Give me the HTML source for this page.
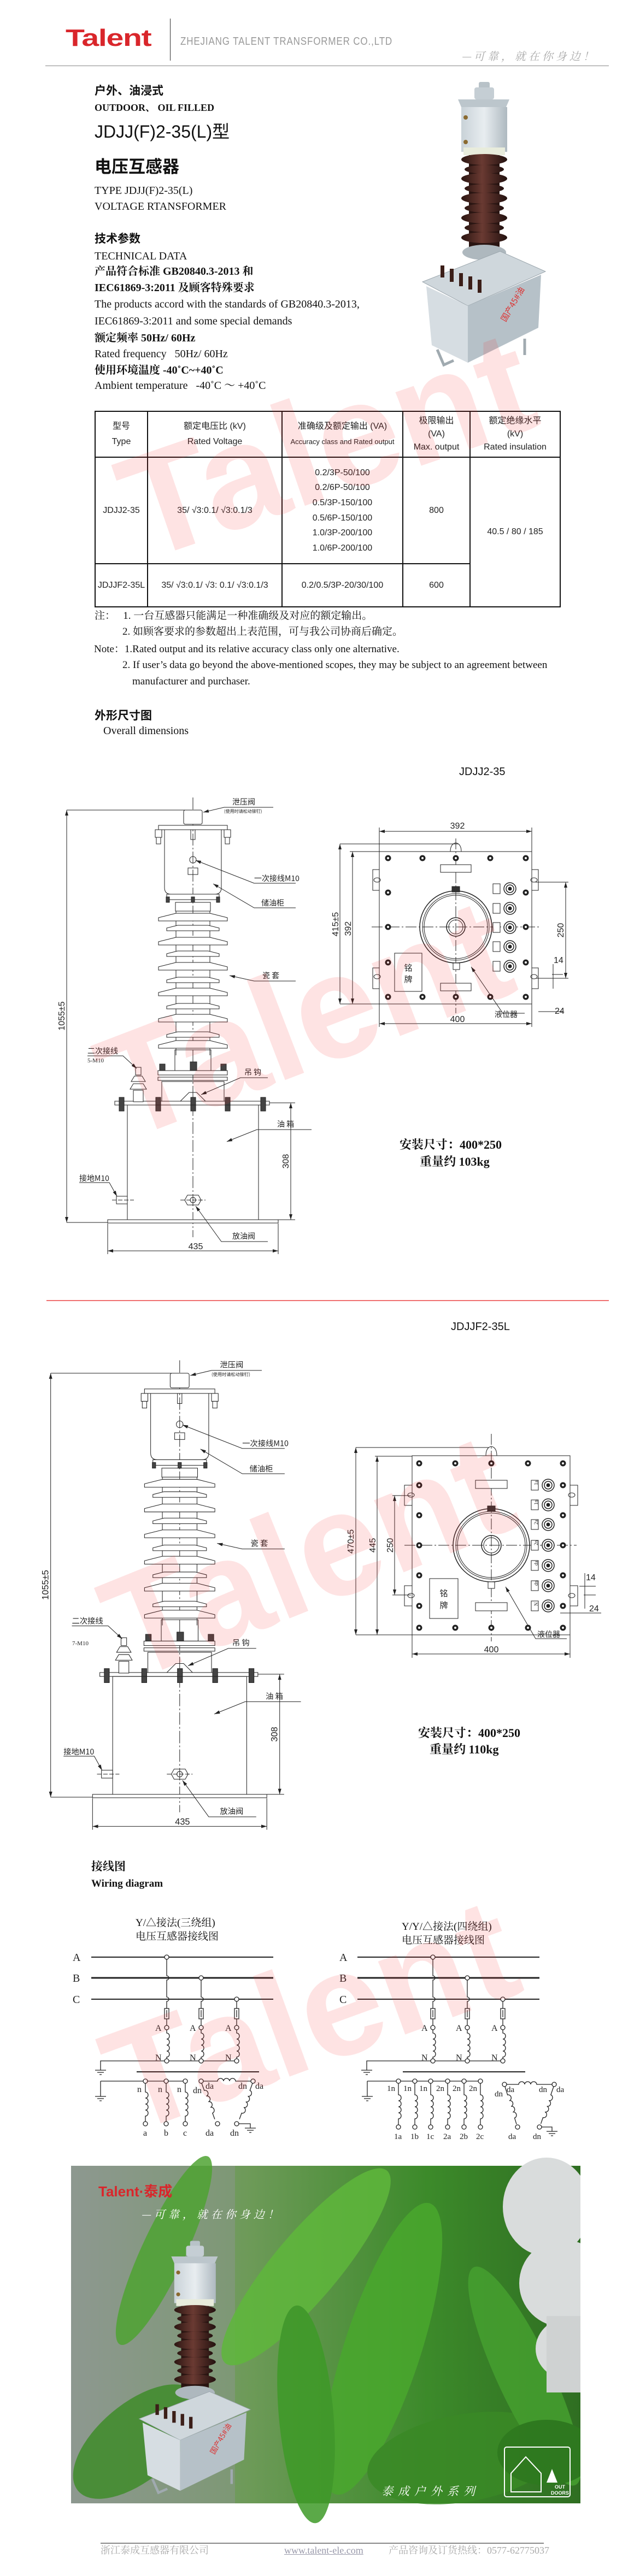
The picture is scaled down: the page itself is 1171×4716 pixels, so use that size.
<!DOCTYPE html>
<html><head><meta charset="utf-8">
<style>
html,body{margin:0;padding:0;background:#fff;}
body{width:1171px;height:4716px;position:relative;overflow:hidden;font-family:"Liberation Serif","Noto Serif CJK SC",serif;color:#111;}
.t{position:absolute;white-space:nowrap;line-height:1;}
.s{font-family:"Liberation Sans","Noto Sans CJK SC",sans-serif;}
.b{font-weight:bold;}
table.spec{position:absolute;left:173px;top:752px;border-collapse:collapse;font-family:"Liberation Sans","Noto Sans CJK SC",sans-serif;font-size:16px;color:#222;}
table.spec td{border:2px solid #111;text-align:center;vertical-align:middle;padding:0;line-height:1.75;}
.wm{position:absolute;font-family:"Liberation Sans",sans-serif;font-weight:bold;font-size:270px;color:rgba(245,40,40,0.13);white-space:nowrap;line-height:1;z-index:5;transform-origin:center;}
svg.main{position:absolute;left:0;top:0;}
</style></head><body>

<!-- header -->
<div class="t s b" style="left:120px;top:48px;font-size:44px;color:#d9262b;transform:scaleX(1.3);transform-origin:left top;letter-spacing:-1px;">Talent</div>
<div style="position:absolute;left:311px;top:34px;width:1px;height:77px;background:#333;"></div>
<div class="t s" style="left:330px;top:66px;font-size:20px;color:#999;transform:scaleX(0.85);transform-origin:left top;letter-spacing:1px;">ZHEJIANG TALENT TRANSFORMER CO.,LTD</div>
<div class="t" style="left:844px;top:92px;font-size:20px;color:#aaa;font-style:italic;letter-spacing:5px;font-family:'Noto Serif CJK SC',serif;">—可靠，就在你身边！</div>
<div style="position:absolute;left:83px;top:120px;width:1031px;height:1px;background:#888;"></div>

<!-- intro text -->
<div class="t b" style="left:173px;top:155px;font-size:21px;font-family:'Noto Sans CJK SC',sans-serif;">户外、油浸式</div>
<div class="t b" style="left:173px;top:188px;font-size:18px;">OUTDOOR、 OIL FILLED</div>
<div class="t s" style="left:173px;top:225px;font-size:32px;">JDJJ(F)2-35(L)型</div>
<div class="t b" style="left:173px;top:287px;font-size:31px;font-family:'Noto Sans CJK SC',sans-serif;">电压互感器</div>
<div class="t" style="left:173px;top:339px;font-size:20px;">TYPE JDJJ(F)2-35(L)</div>
<div class="t" style="left:173px;top:368px;font-size:20px;">VOLTAGE RTANSFORMER</div>
<div class="t b" style="left:173px;top:426px;font-size:21px;font-family:'Noto Sans CJK SC',sans-serif;">技术参数</div>
<div class="t" style="left:173px;top:459px;font-size:20px;">TECHNICAL DATA</div>
<div class="t b" style="left:173px;top:487px;font-size:20px;">产品符合标准 GB20840.3-2013 和</div>
<div class="t b" style="left:173px;top:517px;font-size:20px;">IEC61869-3:2011 及顾客特殊要求</div>
<div class="t" style="left:173px;top:547px;font-size:20px;">The products accord with the standards of GB20840.3-2013,</div>
<div class="t" style="left:173px;top:578px;font-size:20px;">IEC61869-3:2011 and some special demands</div>
<div class="t b" style="left:173px;top:609px;font-size:20px;">额定频率 50Hz/ 60Hz</div>
<div class="t" style="left:173px;top:638px;font-size:20px;">Rated frequency &nbsp;&nbsp;50Hz/ 60Hz</div>
<div class="t b" style="left:173px;top:668px;font-size:20px;">使用环境温度 -40˚C~+40˚C</div>
<div class="t" style="left:173px;top:696px;font-size:20px;">Ambient temperature &nbsp;&nbsp;-40˚C ～ +40˚C</div>

<!-- table -->
<table class="spec">
<tr style="height:84px;"><td style="width:94px;">型号<br>Type</td><td style="width:244px;">额定电压比 (kV)<br>Rated Voltage</td><td style="width:219px;">准确级及额定输出 (VA)<br><span style="font-size:13px;">Accuracy class and Rated output</span></td><td style="width:121px;line-height:1.5;">极限输出<br>(VA)<br>Max. output</td><td style="width:163px;line-height:1.5;">额定绝缘水平<br>(kV)<br>Rated insulation</td></tr>
<tr style="height:195px;"><td>JDJJ2-35</td><td>35/ √3:0.1/ √3:0.1/3</td><td style="line-height:1.72;">0.2/3P-50/100<br>0.2/6P-50/100<br>0.5/3P-150/100<br>0.5/6P-150/100<br>1.0/3P-200/100<br>1.0/6P-200/100</td><td>800</td><td rowspan="2">40.5 / 80 / 185</td></tr>
<tr style="height:79px;"><td>JDJJF2-35L</td><td>35/ √3:0.1/ √3: 0.1/ √3:0.1/3</td><td>0.2/0.5/3P-20/30/100</td><td>600</td></tr>
</table>

<!-- notes -->
<div class="t" style="left:173px;top:1118px;font-size:19px;">注：&nbsp;&nbsp;&nbsp;1. 一台互感器只能满足一种准确级及对应的额定输出。</div>
<div class="t" style="left:224px;top:1147px;font-size:19px;">2. 如顾客要求的参数超出上表范围，可与我公司协商后确定。</div>
<div class="t" style="left:172px;top:1179px;font-size:19px;">Note：1.Rated output and its relative accuracy class only one alternative.</div>
<div class="t" style="left:224px;top:1208px;font-size:19px;">2. If user’s data go beyond the above-mentioned scopes, they may be subject to an agreement between</div>
<div class="t" style="left:242px;top:1238px;font-size:19px;">manufacturer and purchaser.</div>
<div class="t b" style="left:173px;top:1299px;font-size:21px;font-family:'Noto Sans CJK SC',sans-serif;">外形尺寸图</div>
<div class="t" style="left:189px;top:1328px;font-size:20px;">Overall dimensions</div>

<div class="t s" style="left:840px;top:1403px;font-size:20px;">JDJJ2-35</div>
<div class="t s" style="left:825px;top:2419px;font-size:20px;">JDJJF2-35L</div>

<div class="t b" style="left:731px;top:2085px;font-size:22px;">安装尺寸：400*250</div>
<div class="t b" style="left:768px;top:2116px;font-size:22px;">重量约 103kg</div>
<div class="t b" style="left:765px;top:3162px;font-size:22px;">安装尺寸：400*250</div>
<div class="t b" style="left:786px;top:3192px;font-size:22px;">重量约 110kg</div>

<div style="position:absolute;left:85px;top:2380px;width:1029px;height:2px;background:#f07070;"></div>

<div class="t b" style="left:167px;top:3406px;font-size:21px;font-family:'Noto Serif CJK SC',serif;">接线图</div>
<div class="t b" style="left:167px;top:3439px;font-size:19px;">Wiring diagram</div>
<div class="t" style="left:248px;top:3511px;font-size:19px;">Y/△接法(三绕组)</div>
<div class="t" style="left:248px;top:3536px;font-size:19px;">电压互感器接线图</div>
<div class="t" style="left:735px;top:3518px;font-size:19px;">Y/Y/△接法(四绕组)</div>
<div class="t" style="left:735px;top:3543px;font-size:19px;">电压互感器接线图</div>

<!-- footer -->
<div style="position:absolute;left:184px;top:4655px;width:811px;height:2px;background:#888;"></div>
<div class="t" style="left:184px;top:4660px;font-size:18px;color:#aaa;">浙江泰成互感器有限公司</div>
<div class="t" style="left:520px;top:4660px;font-size:18px;color:#99a;text-decoration:underline;">www.talent-ele.com</div>
<div class="t" style="left:711px;top:4660px;font-size:18px;color:#aaa;">产品咨询及订货热线：0577-62775037</div>

<svg class="main" width="1171" height="4716" viewBox="0 0 1171 4716" xmlns="http://www.w3.org/2000/svg">
<defs>
<marker id="ar" markerWidth="10" markerHeight="6" refX="10" refY="3" orient="auto-start-reverse" markerUnits="userSpaceOnUse"><path d="M0,0 L10,3 L0,6 z" fill="#222"/></marker>
<g id="bolt"><circle r="5.5" fill="#222"/><circle r="2" fill="#fff"/></g>
<g id="term"><rect x="-31" y="-9" width="13" height="18" fill="#fff" stroke="#222"/><circle r="11" fill="#fff" stroke="#222" stroke-width="1.5"/><circle r="7" fill="#fff" stroke="#222" stroke-width="1.5"/><circle r="3.5" fill="#222"/></g>
<linearGradient id="grey" x1="0" x2="1"><stop offset="0" stop-color="#c9d2d8"/><stop offset="0.5" stop-color="#e8edf0"/><stop offset="1" stop-color="#aeb9c0"/></linearGradient>
<linearGradient id="brown" x1="0" x2="1"><stop offset="0" stop-color="#2c1612"/><stop offset="0.45" stop-color="#6a3a32"/><stop offset="1" stop-color="#241210"/></linearGradient>
<linearGradient id="bg" x1="0" x2="1" y1="0" y2="0"><stop offset="0" stop-color="#8f9b92"/><stop offset="0.35" stop-color="#6d9a58"/><stop offset="0.7" stop-color="#3c8a2a"/><stop offset="1" stop-color="#2f6e22"/></linearGradient>
</defs>

<!-- product photo -->
<g id="prod">
<rect x="876" y="150" width="20" height="12" rx="3" fill="#b8c2c8"/>
<rect x="868" y="160" width="36" height="22" rx="4" fill="#c5ced4"/>
<path d="M838 182 L932 182 L926 196 L844 196 z" fill="#bcc6cc"/>
<rect x="844" y="196" width="84" height="82" fill="url(#grey)"/>
<circle cx="852" cy="215" r="4" fill="#8a6a30"/><circle cx="852" cy="260" r="4" fill="#8a6a30"/>
<rect x="848" y="270" width="76" height="14" fill="#e8ecdc"/>
<rect x="858" y="284" width="56" height="168" fill="#2a1512"/>
<g fill="url(#brown)">
<ellipse cx="886" cy="292" rx="42" ry="10"/><ellipse cx="886" cy="310" rx="36" ry="8"/><ellipse cx="886" cy="327" rx="42" ry="10"/><ellipse cx="886" cy="345" rx="36" ry="8"/><ellipse cx="886" cy="363" rx="42" ry="10"/><ellipse cx="886" cy="381" rx="36" ry="8"/><ellipse cx="886" cy="399" rx="42" ry="10"/><ellipse cx="886" cy="417" rx="36" ry="8"/><ellipse cx="886" cy="435" rx="42" ry="10"/>
</g>
<ellipse cx="886" cy="462" rx="40" ry="14" fill="#aeb8be"/>
<path d="M773 516 L915 460 L998 497 L856 560 z" fill="#cfd7dc" stroke="#9aa5ac"/>
<path d="M780 524 L856 560 L856 664 L790 632 z" fill="#d6dde2"/>
<path d="M856 560 L990 503 L985 600 L856 664 z" fill="#b6c1c8"/>
<g fill="#3b1e18"><rect x="806" y="486" width="7" height="22"/><rect x="823" y="492" width="7" height="24"/><rect x="840" y="500" width="7" height="24"/><rect x="857" y="506" width="7" height="24"/><rect x="874" y="512" width="7" height="24"/></g>
<text x="925" y="590" font-size="15" fill="#d33" transform="rotate(-60 925 590)" font-family="Noto Sans CJK SC,sans-serif">国产45#油</text>
<path d="M800 640 L812 668 L830 660 M960 620 L960 650" stroke="#a0aab0" stroke-width="5" fill="none"/>
</g>

<!-- side view -->
<g id="side" fill="none" stroke="#222" stroke-width="1">
<line x1="353" y1="1460" x2="353" y2="2265" stroke-dasharray="22 4 3 4"/>
<rect x="336" y="1483" width="34" height="26" rx="3" fill="#fff"/>
<rect x="290" y="1511" width="126" height="8" fill="#fff"/>
<rect x="284" y="1519" width="12" height="14"/><rect x="410" y="1519" width="12" height="14"/>
<rect x="286" y="1533" width="8" height="12"/><rect x="412" y="1533" width="8" height="12"/>
<rect x="349" y="1519" width="8" height="18"/>
<path d="M301 1519 L301 1625 Q301 1637 313 1637 L393 1637 Q405 1637 405 1625 L405 1519"/>
<circle cx="353" cy="1574" r="6"/><rect x="344" y="1589" width="18" height="12"/>
<rect x="305" y="1637" width="96" height="10" fill="#fff"/>
<rect x="304" y="1642" width="6" height="10" fill="#444"/><rect x="350" y="1642" width="6" height="10" fill="#444"/><rect x="396" y="1642" width="6" height="10" fill="#444"/>
<rect x="321" y="1652" width="64" height="16"/>
<line x1="322" y1="1668" x2="322" y2="1932"/><line x1="384" y1="1668" x2="384" y2="1932"/>
<g fill="#fff">
<path d="M322 1672 L290 1680 L290 1686 L416 1686 L416 1680 L384 1672 z"/>
<path d="M325 1694 L305 1699 L305 1704 L401 1704 L401 1699 L381 1694 z"/>
<path d="M322 1716 L290 1724 L290 1730 L416 1730 L416 1724 L384 1716 z"/>
<path d="M325 1741 L305 1746 L305 1751 L401 1751 L401 1746 L381 1741 z"/>
<path d="M322 1762 L290 1770 L290 1776 L416 1776 L416 1770 L384 1762 z"/>
<path d="M325 1789 L305 1794 L305 1799 L401 1799 L401 1794 L381 1789 z"/>
<path d="M322 1809 L290 1817 L290 1823 L416 1823 L416 1817 L384 1809 z"/>
<path d="M325 1837 L305 1842 L305 1847 L401 1847 L401 1842 L381 1837 z"/>
<path d="M322 1857 L290 1865 L290 1871 L416 1871 L416 1865 L384 1857 z"/>
<path d="M325 1889 L305 1894 L305 1899 L401 1899 L401 1894 L381 1889 z"/>
<path d="M322 1905 L290 1913 L290 1919 L416 1919 L416 1913 L384 1905 z"/>
</g>
<rect x="320" y="1922" width="66" height="38"/>
<rect x="289" y="1960" width="127" height="8" fill="#fff"/><rect x="289" y="1972" width="127" height="6"/>
<rect x="292" y="1948" width="10" height="12" fill="#444"/><rect x="348" y="1944" width="12" height="16" fill="#444"/><rect x="404" y="1948" width="10" height="12" fill="#444"/>
<rect x="296" y="1980" width="114" height="38"/>
<path d="M328 2018 L346 2000 L360 2000 L378 2018"/>
<rect x="210" y="2016" width="283" height="7" fill="#fff"/>
<g fill="#444"><rect x="218" y="2009" width="9" height="25"/><rect x="285" y="2009" width="9" height="25"/><rect x="349" y="2009" width="9" height="25"/><rect x="412" y="2009" width="9" height="25"/><rect x="477" y="2009" width="9" height="25"/></g>
<rect x="233" y="2023" width="240" height="210"/>
<rect x="197" y="2233" width="312" height="6" fill="#fff"/>
<path d="M343 2188 L363 2188 L368 2197 L363 2206 L343 2206 L338 2197 z"/><circle cx="353" cy="2197" r="5"/>
<line x1="330" y1="2197" x2="376" y2="2197" stroke-dasharray="8 3"/>
<rect x="213" y="2190" width="20" height="14" fill="#fff"/><line x1="205" y1="2197" x2="245" y2="2197" stroke-dasharray="8 3"/>
<rect x="248" y="1954" width="10" height="14" fill="#fff"/>
<path d="M246 1970 L260 1970 L266 1980 L240 1980 z M244 1984 L262 1984 L268 1994 L238 1994 z" fill="#fff"/>
<rect x="244" y="1996" width="18" height="21" fill="#fff"/>
<!-- dims -->
<line x1="122" y1="1483" x2="340" y2="1483"/><line x1="122" y1="2238" x2="197" y2="2238"/>
<line x1="122" y1="1483" x2="122" y2="2238" marker-start="url(#ar)" marker-end="url(#ar)"/>
<line x1="493" y1="2019" x2="540" y2="2019"/><line x1="509" y1="2233" x2="540" y2="2233"/>
<line x1="532" y1="2019" x2="532" y2="2233" marker-start="url(#ar)" marker-end="url(#ar)"/>
<line x1="197" y1="2240" x2="197" y2="2296"/><line x1="509" y1="2240" x2="509" y2="2296"/>
<line x1="197" y1="2290" x2="509" y2="2290" marker-start="url(#ar)" marker-end="url(#ar)"/>
<!-- leaders -->
<path d="M500 1478 L410 1478 L372 1487" marker-end="url(#ar)"/>
<path d="M541 1617 L465 1617 L358 1575" marker-end="url(#ar)"/>
<path d="M541 1662 L465 1662 L390 1618" marker-end="url(#ar)"/>
<path d="M541 1796 L465 1796 L420 1786" marker-end="url(#ar)"/>
<path d="M490 1973 L440 1973 L368 2004" marker-end="url(#ar)"/>
<path d="M570 2068 L470 2068 L415 2090" marker-end="url(#ar)"/>
<path d="M490 2273 L405 2273 L358 2208" marker-end="url(#ar)"/>
<path d="M160 1933 L225 1933 L250 1956" marker-end="url(#ar)"/>
<path d="M145 2165 L200 2165 L214 2190" marker-end="url(#ar)"/>
<g stroke="none" fill="#222" font-family="Noto Sans CJK SC,sans-serif" font-size="14">
<text x="425" y="1473">泄压阀</text>
<text x="410" y="1488" font-size="8">(使用时请松动铆钉)</text>
<text x="465" y="1613">一次接线M10</text>
<text x="478" y="1658">储油柜</text>
<text x="480" y="1791">瓷  套</text>
<text x="447" y="1968">吊  钩</text>
<text x="507" y="2063">油  箱</text>
<text x="145" y="2162">接地M10</text>
<text x="425" y="2268">放油阀</text>
<text x="160" y="1929">二次接线</text>
<text x="358" y="2287" font-family="Liberation Sans,sans-serif" font-size="16" text-anchor="middle">435</text>
<text x="528" y="2126" font-family="Liberation Sans,sans-serif" font-size="16" text-anchor="middle" transform="rotate(-90 528 2126)">308</text>
<text x="118" y="1860" font-family="Liberation Sans,sans-serif" font-size="16" text-anchor="middle" transform="rotate(-90 118 1860)">1055±5</text>
</g>
</g>
<text x="160" y="1945" font-size="11" fill="#222" font-family="Liberation Serif,serif">5-M10</text>
<use href="#side" transform="translate(-32,989.5) scale(1.022,1.028)"/>
<text x="132" y="3012" font-size="11" fill="#222" font-family="Liberation Serif,serif">7-M10</text>

<!-- plan view 1 -->
<g fill="none" stroke="#222" stroke-width="1">
<rect x="694" y="1559" width="279" height="279" fill="#fff"/>
<path d="M824 1559 Q824 1545 834 1543 Q844 1545 844 1559 z"/>
<line x1="834" y1="1535" x2="834" y2="1855" stroke-dasharray="20 4 3 4"/>
<line x1="680" y1="1697" x2="990" y2="1697" stroke-dasharray="20 4 3 4"/>
<rect x="682" y="1592" width="12" height="38"/><rect x="682" y="1772" width="12" height="38"/>
<rect x="973" y="1592" width="12" height="38"/><rect x="973" y="1772" width="12" height="38"/>
<ellipse cx="690" cy="1611" rx="6" ry="4"/><ellipse cx="690" cy="1788" rx="6" ry="4"/><ellipse cx="977" cy="1611" rx="6" ry="4"/><ellipse cx="977" cy="1788" rx="6" ry="4"/>
<rect x="806" y="1583" width="56" height="14" fill="#fff"/><rect x="806" y="1800" width="56" height="14" fill="#fff"/>
<circle cx="834" cy="1697" r="66" stroke-width="1.5"/><circle cx="834" cy="1697" r="61"/><circle cx="834" cy="1697" r="58"/>
<circle cx="834" cy="1697" r="17" stroke-width="1.5"/><circle cx="834" cy="1697" r="13"/>
<rect x="827" y="1623" width="14" height="10" fill="#333"/><rect x="829" y="1763" width="12" height="12" fill="#fff"/>
<rect x="722" y="1745" width="50" height="70" fill="#fff"/>
<line x1="622" y1="1545" x2="838" y2="1545"/><line x1="622" y1="1838" x2="694" y2="1838"/>
<line x1="622" y1="1545" x2="622" y2="1838" marker-start="url(#ar)" marker-end="url(#ar)"/>
<line x1="640" y1="1559" x2="694" y2="1559"/>
<line x1="645" y1="1559" x2="645" y2="1838" marker-start="url(#ar)" marker-end="url(#ar)"/>
<line x1="694" y1="1515" x2="694" y2="1559"/><line x1="973" y1="1515" x2="973" y2="1559"/>
<line x1="694" y1="1522" x2="973" y2="1522" marker-start="url(#ar)" marker-end="url(#ar)"/>
<line x1="694" y1="1838" x2="694" y2="1880"/><line x1="973" y1="1838" x2="973" y2="1880"/>
<line x1="694" y1="1874" x2="973" y2="1874" marker-start="url(#ar)" marker-end="url(#ar)"/>
<line x1="980" y1="1615" x2="1040" y2="1615"/><line x1="980" y1="1791" x2="1040" y2="1791"/>
<line x1="1035" y1="1615" x2="1035" y2="1791" marker-start="url(#ar)" marker-end="url(#ar)"/>
<line x1="1010" y1="1784" x2="1030" y2="1784"/><line x1="1012" y1="1765" x2="1012" y2="1810"/>
<line x1="985" y1="1852" x2="1030" y2="1852"/>
<path d="M960 1855 L920 1855 L862 1770" marker-end="url(#ar)"/>
</g>
<g>
<use href="#bolt" x="710" y="1571"/><use href="#bolt" x="773" y="1571"/><use href="#bolt" x="834" y="1571"/><use href="#bolt" x="897" y="1571"/><use href="#bolt" x="962" y="1571"/>
<use href="#bolt" x="710" y="1634"/><use href="#bolt" x="710" y="1697"/><use href="#bolt" x="710" y="1762"/>
<use href="#bolt" x="962" y="1634"/><use href="#bolt" x="962" y="1697"/><use href="#bolt" x="962" y="1762"/>
<use href="#bolt" x="710" y="1825"/><use href="#bolt" x="773" y="1825"/><use href="#bolt" x="834" y="1825"/><use href="#bolt" x="897" y="1825"/><use href="#bolt" x="962" y="1825"/>
<use href="#term" x="933" y="1627"/><use href="#term" x="933" y="1663"/><use href="#term" x="933" y="1698"/><use href="#term" x="933" y="1733"/><use href="#term" x="933" y="1769"/>
</g>
<g fill="#222" font-family="Liberation Sans,sans-serif" font-size="16">
<text x="837" y="1517" text-anchor="middle">392</text>
<text x="837" y="1871" text-anchor="middle">400</text>
<text x="619" y="1692" text-anchor="middle" transform="rotate(-90 619 1692)">415±5</text>
<text x="642" y="1700" text-anchor="middle" transform="rotate(-90 642 1700)">392</text>
<text x="1031" y="1703" text-anchor="middle" transform="rotate(-90 1031 1703)">250</text>
<text x="1013" y="1763">14</text><text x="1015" y="1856">24</text>
<text x="747" y="1777" text-anchor="middle" font-size="15" font-family="Noto Sans CJK SC,sans-serif">铭</text>
<text x="747" y="1798" text-anchor="middle" font-size="15" font-family="Noto Sans CJK SC,sans-serif">牌</text>
<text x="905" y="1862" font-size="14" font-family="Noto Sans CJK SC,sans-serif">液位器</text>
</g>

<!-- plan view 2 -->
<g fill="none" stroke="#222" stroke-width="1">
<rect x="754" y="2665" width="289" height="328" fill="#fff"/>
<path d="M889 2665 Q889 2650 899 2648 Q909 2650 909 2665 z"/>
<line x1="899" y1="2625" x2="899" y2="3005" stroke-dasharray="20 4 3 4"/>
<line x1="740" y1="2829" x2="1055" y2="2829" stroke-dasharray="20 4 3 4"/>
<rect x="740" y="2719" width="14" height="37"/><rect x="740" y="2903" width="14" height="37"/>
<rect x="1043" y="2719" width="14" height="37"/><rect x="1043" y="2903" width="14" height="37"/>
<ellipse cx="752" cy="2737" rx="6" ry="4"/><ellipse cx="752" cy="2921" rx="6" ry="4"/><ellipse cx="1046" cy="2737" rx="6" ry="4"/><ellipse cx="1046" cy="2921" rx="6" ry="4"/>
<rect x="870" y="2710" width="58" height="15" fill="#fff"/><rect x="870" y="2934" width="58" height="15" fill="#fff"/>
<ellipse cx="899" cy="2829" rx="70" ry="67" stroke-width="1.5"/><ellipse cx="899" cy="2829" rx="65" ry="62"/><ellipse cx="899" cy="2829" rx="62" ry="59"/>
<circle cx="899" cy="2829" r="18" stroke-width="1.5"/><circle cx="899" cy="2829" r="14"/>
<rect x="892" y="2757" width="14" height="10" fill="#333"/><rect x="893" y="2896" width="12" height="12" fill="#fff"/>
<rect x="786" y="2890" width="52" height="73" fill="#fff"/>
<line x1="651" y1="2650" x2="895" y2="2650"/><line x1="651" y1="2993" x2="754" y2="2993"/>
<line x1="651" y1="2650" x2="651" y2="2993" marker-start="url(#ar)" marker-end="url(#ar)"/>
<line x1="686" y1="2666" x2="754" y2="2666"/>
<line x1="690" y1="2666" x2="690" y2="2993" marker-start="url(#ar)" marker-end="url(#ar)"/>
<line x1="718" y1="2738" x2="752" y2="2738"/><line x1="718" y1="2920" x2="752" y2="2920"/>
<line x1="722" y1="2738" x2="722" y2="2920" marker-start="url(#ar)" marker-end="url(#ar)"/>
<line x1="754" y1="2993" x2="754" y2="3035"/><line x1="1043" y1="2993" x2="1043" y2="3035"/>
<line x1="754" y1="3028" x2="1043" y2="3028" marker-start="url(#ar)" marker-end="url(#ar)"/>
<line x1="1060" y1="2904" x2="1090" y2="2904"/><line x1="1068" y1="2920" x2="1090" y2="2920"/><line x1="1070" y1="2880" x2="1070" y2="2945"/>
<line x1="1025" y1="2953" x2="1100" y2="2953"/>
<path d="M1037 3000 L980 3000 L925 2905" marker-end="url(#ar)"/>
</g>
<g>
<use href="#bolt" x="767" y="2679"/><use href="#bolt" x="833" y="2679"/><use href="#bolt" x="899" y="2679"/><use href="#bolt" x="966" y="2679"/><use href="#bolt" x="1030" y="2679"/>
<use href="#bolt" x="767" y="2719"/><use href="#bolt" x="767" y="2774"/><use href="#bolt" x="767" y="2829"/><use href="#bolt" x="767" y="2884"/><use href="#bolt" x="767" y="2940"/>
<use href="#bolt" x="1030" y="2719"/><use href="#bolt" x="1030" y="2774"/><use href="#bolt" x="1030" y="2829"/><use href="#bolt" x="1030" y="2884"/><use href="#bolt" x="1030" y="2940"/>
<use href="#bolt" x="767" y="2980"/><use href="#bolt" x="833" y="2980"/><use href="#bolt" x="899" y="2980"/><use href="#bolt" x="966" y="2980"/><use href="#bolt" x="1030" y="2980"/>
<use href="#term" x="1003" y="2719"/><use href="#term" x="1003" y="2755"/><use href="#term" x="1003" y="2791"/><use href="#term" x="1003" y="2829"/><use href="#term" x="1003" y="2866"/><use href="#term" x="1003" y="2903"/><use href="#term" x="1003" y="2940"/>
</g>
<g fill="#222" font-family="Liberation Sans,sans-serif" font-size="16">
<text x="899" y="3025" text-anchor="middle">400</text>
<text x="647" y="2822" text-anchor="middle" transform="rotate(-90 647 2822)">470±5</text>
<text x="687" y="2829" text-anchor="middle" transform="rotate(-90 687 2829)">445</text>
<text x="719" y="2829" text-anchor="middle" transform="rotate(-90 719 2829)">250</text>
<text x="1072" y="2893">14</text>
<text x="1078" y="2950">24</text>
<text x="812" y="2922" text-anchor="middle" font-size="15" font-family="Noto Sans CJK SC,sans-serif">铭</text>
<text x="812" y="2944" text-anchor="middle" font-size="15" font-family="Noto Sans CJK SC,sans-serif">牌</text>
<text x="983" y="2997" font-size="14" font-family="Noto Sans CJK SC,sans-serif">液位器</text>
<g font-size="9" font-family="Liberation Serif,serif">
<text x="980" y="2723" transform="rotate(-90 980 2719)">1a</text><text x="980" y="2759" transform="rotate(-90 980 2755)">1n</text><text x="980" y="2795" transform="rotate(-90 980 2791)">2a</text><text x="980" y="2833" transform="rotate(-90 980 2829)">2n</text><text x="980" y="2870" transform="rotate(-90 980 2866)">da</text><text x="980" y="2907" transform="rotate(-90 980 2903)">dn</text><text x="980" y="2944" transform="rotate(-90 980 2940)">N</text>
</g>
</g>

<!-- wiring diagrams -->
<g id="wireL" fill="none" stroke="#222" stroke-width="1.3">
<line x1="167" y1="3583" x2="500" y2="3583" stroke-width="2"/>
<line x1="167" y1="3621" x2="500" y2="3621" stroke-width="3"/>
<line x1="167" y1="3660" x2="500" y2="3660" stroke-width="2"/>
<path d="M305 3587 L305 3617 a4 4 0 0 1 0 8 L305 3656 a4 4 0 0 1 0 8 L305 3677"/>
<path d="M368 3625 L368 3656 a4 4 0 0 1 0 8 L368 3677"/>
<path d="M433 3664 L433 3677"/>
<g fill="#fff"><circle cx="305" cy="3583" r="4"/><circle cx="368" cy="3621" r="4"/><circle cx="433" cy="3660" r="4"/></g>
<g id="ph">
<rect x="301" y="3677" width="8" height="19" fill="#fff"/><line x1="305" y1="3680" x2="305" y2="3693"/>
<line x1="305" y1="3696" x2="305" y2="3708"/><circle cx="305" cy="3712" r="4" fill="#fff"/>
<path d="M305 3716 L305 3722 a5 5.5 0 0 1 0 11 a5 5.5 0 0 1 0 11 a5 5.5 0 0 1 0 11 a5 5.5 0 0 1 0 11 L305 3769"/>
<circle cx="305" cy="3773" r="4" fill="#fff"/>
</g>
<use href="#ph" x="63"/><use href="#ph" x="128"/>
<path d="M309 3773 L364 3773 M372 3773 L429 3773 M301 3773 L184 3773 L184 3790"/>
<path d="M174 3790 L194 3790 M178 3794 L190 3794 M182 3798 L186 3798"/>
<line x1="250" y1="3793" x2="474" y2="3793" stroke-width="2"/>
</g>
<g fill="#222" font-family="Liberation Serif,serif" font-size="20">
<text x="133" y="3590">A</text><text x="133" y="3628">B</text><text x="133" y="3667">C</text>
<text x="621" y="3590">A</text><text x="621" y="3628">B</text><text x="621" y="3667">C</text>
<g font-size="16"><text x="284" y="3718">A</text><text x="347" y="3718">A</text><text x="412" y="3718">A</text>
<text x="284" y="3772">N</text><text x="347" y="3772">N</text><text x="412" y="3772">N</text>
<text x="771" y="3718">A</text><text x="834" y="3718">A</text><text x="899" y="3718">A</text>
<text x="771" y="3772">N</text><text x="834" y="3772">N</text><text x="899" y="3772">N</text></g>
</g>
<use href="#wireL" transform="translate(487,0)"/>

<!-- left secondary -->
<g fill="none" stroke="#222" stroke-width="1.3">
<path d="M184 3810 L262 3810 M270 3810 L300 3810 M308 3810 L335 3810 M184 3810 L184 3838"/>
<path d="M174 3838 L194 3838 M178 3842 L190 3842 M182 3846 L186 3846"/>
<g id="sc">
<circle cx="266" cy="3810" r="4" fill="#fff"/>
<path d="M266 3814 L266 3830 a5 5.5 0 0 1 0 11 a5 5.5 0 0 1 0 11 a5 5.5 0 0 1 0 11 a5 5.5 0 0 1 0 11 L266 3884"/>
<circle cx="266" cy="3888" r="4" fill="#fff"/>
</g>
<use href="#sc" x="38"/><use href="#sc" x="73"/>
<circle cx="368" cy="3810" r="4" fill="#fff"/><circle cx="463" cy="3810" r="4" fill="#fff"/>
<path d="M372 3810 L398 3810 a5.5 5 0 0 1 11 0 a5.5 5 0 0 1 11 0 a5.5 5 0 0 1 11 0 L459 3810"/>
<g transform="translate(369,3814) rotate(-20)"><path d="M0 0 L0 14 a5 5.5 0 0 1 0 11 a5 5.5 0 0 1 0 11 a5 5.5 0 0 1 0 11 a5 5.5 0 0 1 0 11 L0 70"/></g>
<circle cx="398" cy="3888" r="4" fill="#fff"/>
<g transform="translate(462,3814) rotate(20)"><path d="M0 0 L0 14 a5 5.5 0 0 1 0 11 a5 5.5 0 0 1 0 11 a5 5.5 0 0 1 0 11 a5 5.5 0 0 1 0 11 L0 70"/></g>
<circle cx="433" cy="3888" r="4" fill="#fff"/>
<path d="M437 3888 L458 3888 L458 3896 M448 3896 L468 3896 M452 3900 L464 3900 M456 3904 L460 3904"/>
</g>
<g fill="#222" font-family="Liberation Serif,serif" font-size="16">
<text x="251" y="3830">n</text><text x="289" y="3830">n</text><text x="324" y="3830">n</text>
<text x="262" y="3910">a</text><text x="300" y="3910">b</text><text x="335" y="3910">c</text>
<text x="353" y="3832">dn</text><text x="376" y="3824">da</text><text x="436" y="3824">dn</text><text x="467" y="3824">da</text>
<text x="376" y="3910">da</text><text x="421" y="3910">dn</text>
</g>

<!-- right secondary -->
<g fill="none" stroke="#222" stroke-width="1.3">
<path d="M672 3810 L875 3810 M672 3810 L672 3838"/>
<path d="M662 3838 L682 3838 M666 3842 L678 3842 M670 3846 L674 3846"/>
<g id="sc2">
<circle cx="729" cy="3810" r="4" fill="#fff"/>
<path d="M729 3814 L729 3835 a5 5.5 0 0 1 0 11 a5 5.5 0 0 1 0 11 a5 5.5 0 0 1 0 11 a5 5.5 0 0 1 0 11 L729 3890"/>
<circle cx="729" cy="3894" r="4" fill="#fff"/>
</g>
<use href="#sc2" x="30"/><use href="#sc2" x="59"/><use href="#sc2" x="90"/><use href="#sc2" x="120"/><use href="#sc2" x="150"/>
<circle cx="923" cy="3816" r="4" fill="#fff"/><circle cx="1014" cy="3816" r="4" fill="#fff"/>
<path d="M927 3816 L949 3816 a5.5 5 0 0 1 11 0 a5.5 5 0 0 1 11 0 a5.5 5 0 0 1 11 0 L1010 3816"/>
<g transform="translate(924,3820) rotate(-17)"><path d="M0 0 L0 16 a5 5.5 0 0 1 0 11 a5 5.5 0 0 1 0 11 a5 5.5 0 0 1 0 11 a5 5.5 0 0 1 0 11 L0 72"/></g>
<circle cx="947" cy="3894" r="4" fill="#fff"/>
<g transform="translate(1013,3820) rotate(19)"><path d="M0 0 L0 16 a5 5.5 0 0 1 0 11 a5 5.5 0 0 1 0 11 a5 5.5 0 0 1 0 11 a5 5.5 0 0 1 0 11 L0 72"/></g>
<circle cx="987" cy="3894" r="4" fill="#fff"/>
<path d="M991 3894 L1010 3894 L1010 3902 M1000 3902 L1020 3902 M1004 3906 L1016 3906 M1008 3910 L1012 3910"/>
</g>
<g fill="#222" font-family="Liberation Serif,serif" font-size="15">
<text x="708" y="3828">1n</text><text x="738" y="3828">1n</text><text x="767" y="3828">1n</text><text x="798" y="3828">2n</text><text x="828" y="3828">2n</text><text x="858" y="3828">2n</text>
<text x="721" y="3916">1a</text><text x="751" y="3916">1b</text><text x="780" y="3916">1c</text><text x="811" y="3916">2a</text><text x="841" y="3916">2b</text><text x="871" y="3916">2c</text>
<text x="905" y="3838">dn</text><text x="927" y="3830">da</text><text x="986" y="3830">dn</text><text x="1018" y="3830">da</text>
<text x="930" y="3916">da</text><text x="975" y="3916">dn</text>
</g>

<!-- bottom photo -->
<g>
<rect x="130" y="3965" width="932" height="618" fill="url(#bg)"/>
<rect x="130" y="3965" width="300" height="618" fill="#8c968e" opacity="0.5"/>
<g fill="#4fa332" opacity="0.85">
<ellipse cx="300" cy="4120" rx="40" ry="190" transform="rotate(25 300 4120)"/>
<ellipse cx="560" cy="4150" rx="60" ry="230" transform="rotate(40 560 4150)" fill="#5fb83c"/>
<ellipse cx="700" cy="4300" rx="70" ry="280" transform="rotate(18 700 4300)" fill="#4aa82e"/>
<ellipse cx="560" cy="4420" rx="50" ry="200" transform="rotate(-5 560 4420)" fill="#3e9a28"/>
<ellipse cx="250" cy="4470" rx="70" ry="140" transform="rotate(50 250 4470)" fill="#3f8c2a"/>
<ellipse cx="850" cy="4500" rx="180" ry="80" transform="rotate(-10 850 4500)" fill="#3a8a26"/>
<ellipse cx="960" cy="4350" rx="50" ry="220" transform="rotate(-25 960 4350)" fill="#46a030"/>
<ellipse cx="1000" cy="4490" rx="90" ry="60" fill="#2f7a1f"/>
</g>
<g fill="#d9dcdc">
<ellipse cx="1000" cy="4040" rx="80" ry="90"/>
<ellipse cx="1030" cy="4180" rx="80" ry="80"/>
<ellipse cx="1050" cy="4300" rx="70" ry="60"/>
<rect x="1000" y="4240" width="62" height="140" fill="#cfd2d2"/>
</g>
<rect x="1062" y="3965" width="109" height="618" fill="#fff"/>
<use href="#prod" transform="translate(-445,3969) scale(0.905,0.89)"/>
<text x="180" y="4021" font-family="Liberation Sans,Noto Sans CJK SC,sans-serif" font-weight="bold" font-size="26" fill="#d9262b">Talent·泰成</text>
<text x="258" y="4061" font-family="Noto Serif CJK SC,serif" font-size="20" fill="#fff" font-style="italic" letter-spacing="6">—可靠，就在你身边！</text>
<text x="698" y="4568" font-family="Noto Serif CJK SC,serif" font-size="21" fill="#fff" font-style="italic" letter-spacing="9">泰成户外系列</text>
<rect x="923" y="4480" width="120" height="91" rx="4" fill="none" stroke="#fff" stroke-width="2"/>
<path d="M935 4562 L935 4528 L962 4498 L990 4528 L990 4562 z" fill="none" stroke="#fff" stroke-width="2"/>
<path d="M1010 4520 L1000 4545 L1020 4545 z" fill="#fff"/>
<text x="1015" y="4556" font-family="Liberation Sans,sans-serif" font-size="9" fill="#fff" font-weight="bold">OUT</text>
<text x="1008" y="4567" font-family="Liberation Sans,sans-serif" font-size="9" fill="#fff" font-weight="bold">DOORS</text>
</g>
</svg>

<!-- watermarks -->
<div class="wm" style="left:210px;top:680px;transform:rotate(-19deg);">Talent</div>
<div class="wm" style="left:170px;top:1730px;transform:rotate(-21deg);">Talent</div>
<div class="wm" style="left:176px;top:2715px;transform:rotate(-22deg);">Talent</div>
<div class="wm" style="left:180px;top:3555px;transform:rotate(-20deg);">Talent</div>
</body></html>
